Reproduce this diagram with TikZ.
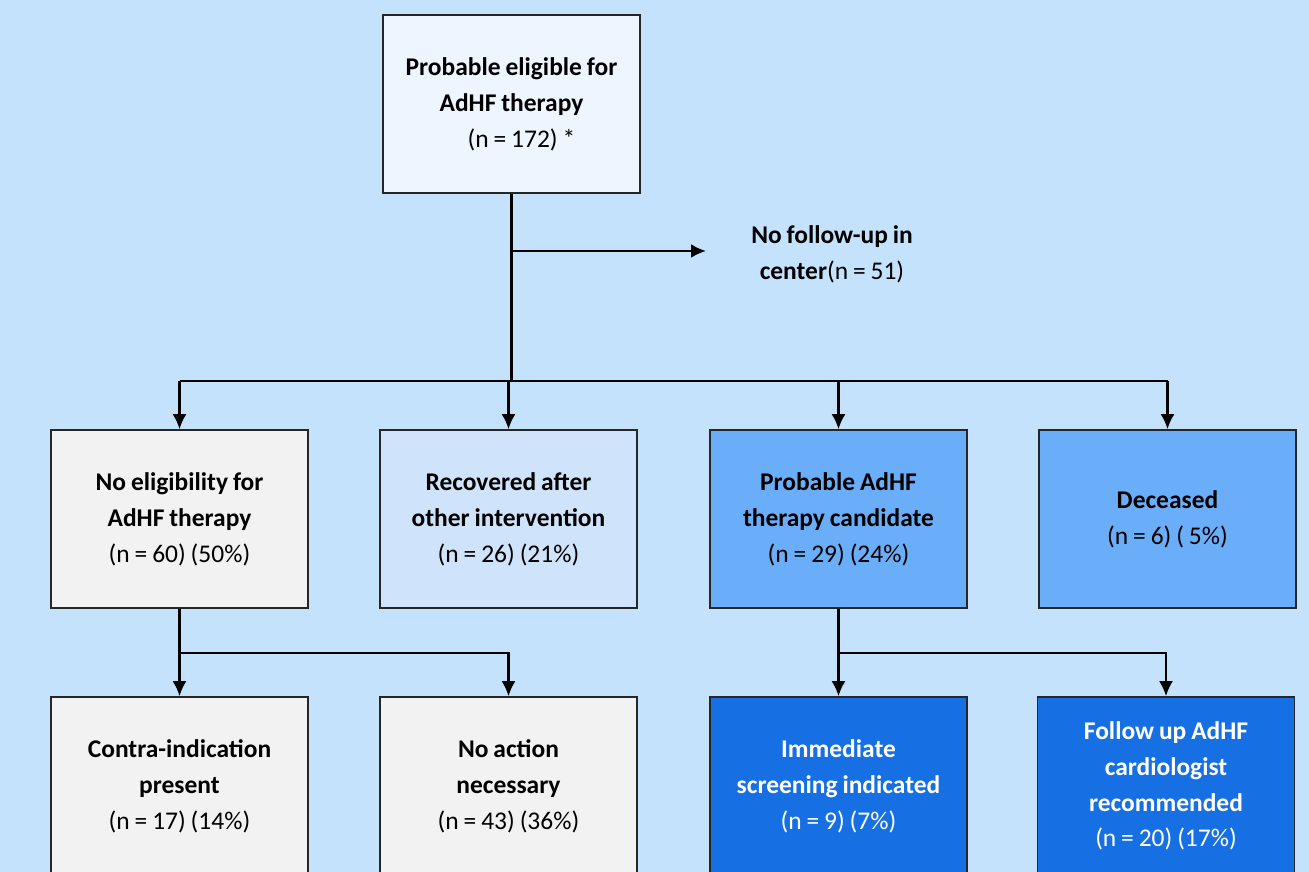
\documentclass[tikz,border=0pt]{standalone}
\usepackage{fontspec}
\setmainfont[WordSpace=0.85]{Carlito}
\usepackage{xcolor}
\usepackage{tikz}
\usetikzlibrary{arrows.meta,positioning}
\definecolor{bgblue}{HTML}{C4E2FC}
\definecolor{topfill}{HTML}{EDF5FE}
\definecolor{greyfill}{HTML}{F2F2F2}
\definecolor{paleblue}{HTML}{CFE4FB}
\definecolor{midblue}{HTML}{6AAEFA}
\definecolor{darkblue}{HTML}{1770E3}
\tikzstyle{box} = [draw=black!85, line width=0.9pt, minimum width=5.14cm, minimum height=3.56cm, align=center, inner sep=0pt, font=\fontsize{14.5}{20.4}\selectfont]
\tikzstyle{line} = [draw, line width=1.4pt, -{Latex[length=3mm,width=2.8mm]}]

\begin{document}
\begin{tikzpicture}[x=0.02cm,y=-0.02cm]
		\fill[bgblue] (0,0) rectangle (1309,872); % background
		\useasboundingbox (0,0) rectangle (1309,872);
		\clip (0,0) rectangle (1309,872);
		\node[box,fill=topfill]  (elig)   at (511.5,104) {\textbf{Probable eligible for}\\\textbf{AdHF therapy}\\\hspace*{0.4cm}(n = 172) *};
		\node[font=\fontsize{14.5}{20.4}\selectfont,align=center] (nofu) at (832,254) {\textbf{No follow-up in}\\\textbf{center}(n = 51)};
		% second row
		\node[box,fill=greyfill] (noelig) at (179.5,519) {\textbf{No eligibility for}\\\textbf{AdHF therapy}\\(n = 60) (50\%)};
		\node[box,fill=paleblue] (recov)  at (508.5,519) {\textbf{Recovered after}\\\textbf{other intervention}\\(n = 26) (21\%)};
		\node[box,fill=midblue]  (cand)   at (838.5,519) {\textbf{Probable AdHF}\\\textbf{therapy candidate}\\(n = 29) (24\%)};
		\node[box,fill=midblue]  (dead)   at (1167.5,519) {\textbf{Deceased}\\(n = 6) ( 5\%)};
		% third row
		\node[box,fill=greyfill] (contra) at (179.5,786) {\textbf{Contra-indication}\\\textbf{present}\\(n = 17) (14\%)};
		\node[box,fill=greyfill] (noact)  at (508.5,786) {\textbf{No action}\\\textbf{necessary}\\(n = 43) (36\%)};
		\node[box,fill=darkblue,text=white] (screen) at (838.5,786) {\textbf{Immediate}\\\textbf{screening indicated}\\(n = 9) (7\%)};
		\node[box,fill=darkblue,text=white] (follow) at (1166,786) {\textbf{Follow up AdHF}\\\textbf{cardiologist}\\\textbf{recommended}\\(n = 20) (17\%)};
		% connectors
		\coordinate (bus) at (510,381);
		\coordinate (fu)  at (706,251);
		\draw[line width=1.4pt] (elig.south) -- (elig.south |- bus); % trunk
		\path[line] (elig.south |- fu) -- (fu); % no follow-up
		\draw[line width=1.4pt] (noelig.north |- bus) -- (dead.north |- bus); % bus
		\foreach \b in {noelig,recov,cand,dead}
			\path[line] (\b.north |- bus) -- (\b.north);
		\path[line] (noelig.south) -- (contra.north);
		\path[line] (noelig.south) -- ++(0,44) -| (noact.north);
		\path[line] (cand.south) -- (screen.north);
		\path[line] (cand.south) -- ++(0,44) -| (follow.north);
\end{tikzpicture}
\end{document}
